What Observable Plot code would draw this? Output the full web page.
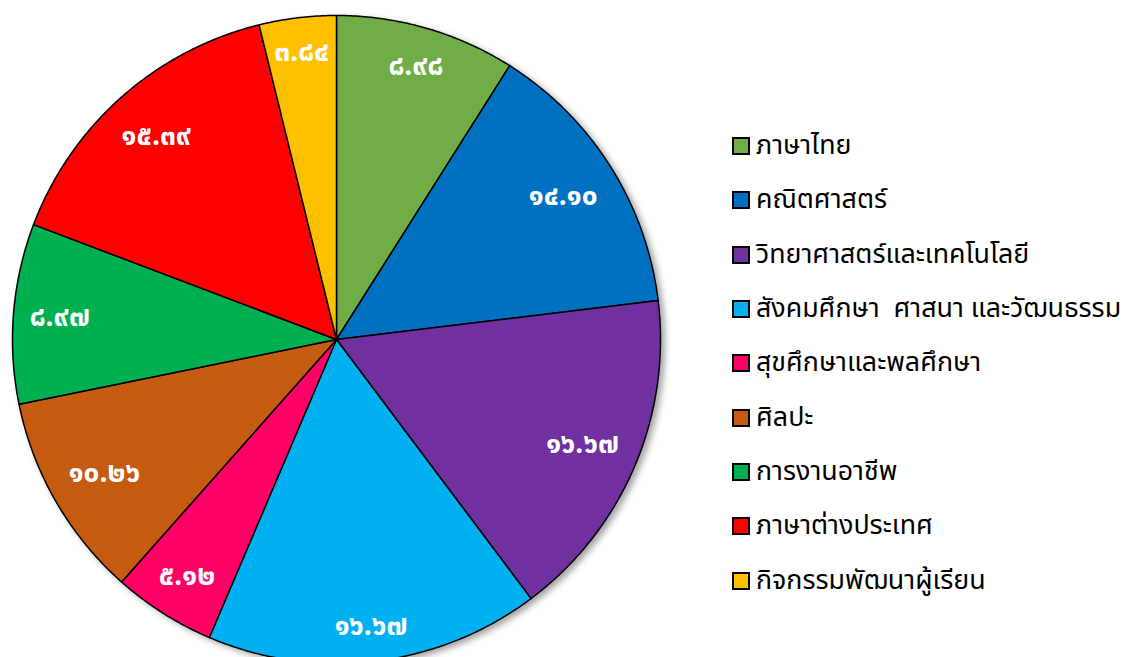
<!DOCTYPE html>
<html><head><meta charset="utf-8">
<script src="https://cdn.jsdelivr.net/npm/d3@7"></script>
<script src="https://cdn.jsdelivr.net/npm/@observablehq/plot@0.6"></script>
<style>
html,body{margin:0;padding:0;background:#fff;}
#wrap{position:relative;width:1123px;height:657px;overflow:hidden;font-family:"Noto Sans Thai","Noto Sans",Tahoma,sans-serif;}
#chart{position:absolute;left:0;top:0;}
#legend{position:absolute;left:733px;top:119px;width:390px;}
.lg-swatches{font-size:26.8px;font-family:"Noto Sans Thai","Noto Sans",Tahoma,sans-serif;color:#000;margin:0;}
.lg-swatch{height:54.3px;padding:0;}
.lg-swatch svg{overflow:visible;margin-right:7px;}
.lg-swatch rect{stroke:#000;stroke-width:2;}
.lg-swatch-label{white-space:pre;overflow:visible;}
g[aria-label="line"]{filter:drop-shadow(4px 3px 3px rgba(0,0,0,0.35));}
</style>
</head><body>
<div id="wrap"><div id="chart"></div><div id="legend"></div></div>
<script>
const categories = ["ภาษาไทย","คณิตศาสตร์","วิทยาศาสตร์และเทคโนโลยี","สังคมศึกษา  ศาสนา และวัฒนธรรม","สุขศึกษาและพลศึกษา","ศิลปะ","การงานอาชีพ","ภาษาต่างประเทศ","กิจกรรมพัฒนาผู้เรียน"];
const values = [8.98, 14.10, 16.67, 16.67, 5.12, 10.26, 8.97, 15.39, 3.84];
const colors = ["#70AD47","#0070C0","#7030A0","#00B0F0","#FF0066","#C55A11","#00B050","#FF0000","#FFC000"];
const thaiDigits = "๐๑๒๓๔๕๖๗๘๙";
const toThai = v => v.toFixed(2).replace(/\d/g, d => thaiDigits[+d]);

const R = 324, cx = 336, cy = 339, W = 700, H = 657;

const data = categories.map((c, i) => ({category: c, value: values[i]}));
const arcs = d3.pie().sort(null).value(d => d.value)(data);
const slicePts = [];
arcs.forEach(a => {
  const c = a.data.category;
  const n = Math.max(2, Math.ceil((a.endAngle - a.startAngle) / (Math.PI / 360)));
  slicePts.push({category: c, x: 0, y: 0});
  for (let k = 0; k <= n; k++) {
    const t = a.startAngle + (a.endAngle - a.startAngle) * k / n;
    slicePts.push({category: c, x: Math.sin(t), y: Math.cos(t)});
  }
  slicePts.push({category: c, x: 0, y: 0});
});
// "inside end" label placement: label box pushed inward so it fits near the rim
const labels = arcs.map(a => {
  const m = (a.startAngle + a.endAngle) / 2;
  const text = toThai(a.data.value);
  const digits = text.replace(".", "").length;
  const w = 16.5 * digits + 8, h = 30;
  const ext = Math.abs(Math.sin(m)) * w / 2 + Math.abs(Math.cos(m)) * h / 2;
  const r = (R - 16.5 - ext) / R;
  return {text, x: r * Math.sin(m), y: r * Math.cos(m)};
});

const chart = Plot.plot({
  width: W, height: H, margin: 0,
  x: {domain: [-cx / R, (W - cx) / R], axis: null},
  y: {domain: [(cy - H) / R, cy / R], axis: null},
  color: {domain: categories, range: colors},
  style: {background: "transparent"},
  marks: [
    Plot.line(slicePts, {x: "x", y: "y", z: "category", fill: "category", stroke: "#000", strokeWidth: 1.5, strokeLinejoin: "round", curve: "linear"}),
    Plot.text(labels, {x: "x", y: "y", text: "text", fill: "#fff", fontSize: 28, fontWeight: "bold", fontFamily: "'Noto Sans Thai','Noto Sans',Tahoma,sans-serif"})
  ]
});
document.getElementById("chart").appendChild(chart);

const legend = Plot.legend({color: {domain: categories, range: colors}, legend: "swatches", columns: 1, swatchSize: 16, className: "lg"});
document.getElementById("legend").appendChild(legend);
</script>
</body></html>
